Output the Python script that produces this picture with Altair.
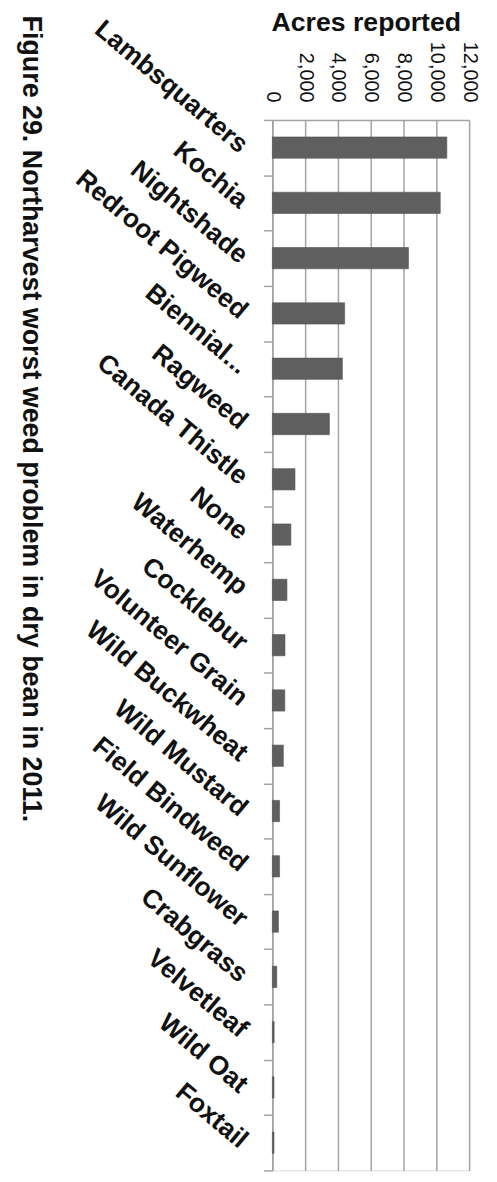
import altair as alt
import pandas as pd

FONT = "Liberation Sans"

weeds = ["Lambsquarters", "Kochia", "Nightshade", "Redroot Pigweed", "Biennial...",
         "Ragweed", "Canada Thistle", "None", "Waterhemp", "Cocklebur",
         "Volunteer Grain", "Wild Buckwheat", "Wild Mustard", "Field Bindweed",
         "Wild Sunflower", "Crabgrass", "Velvetleaf", "Wild Oat", "Foxtail"]
acres = [10640, 10240, 8300, 4410, 4270, 3480, 1380, 1130, 890, 770,
         760, 670, 440, 440, 370, 270, 110, 100, 100]
tick_values = [0, 2000, 4000, 6000, 8000, 10000, 12000]
axis_title = "Acres reported"
caption_text = "Figure 29. Northarvest worst weed problem in dry bean in 2011."

df = pd.DataFrame({"weed": weeds, "acres": acres})
cap_df = pd.DataFrame({"t": [caption_text]})

GRAY = "#a3a3a3"

bars = alt.Chart(df).mark_bar(
    color="#5f5f5f", stroke="#555555", strokeWidth=0.6,
    height=alt.RelativeBandSize(0.385)
).encode(
    x=alt.X(
        "acres:Q",
        scale=alt.Scale(domain=[0, 12000], nice=False, zero=True),
        axis=alt.Axis(
            orient="top", values=tick_values, format=",.0f", title=axis_title,
            labelAngle=90, labelAlign="right", labelBaseline="middle",
            labelFontSize=20, labelFont=FONT, labelColor="#111111", labelPadding=18,
            ticks=False, tickSize=0,
            domainColor=GRAY, domainWidth=1.5,
            grid=True, gridColor=GRAY, gridWidth=1.5,
            titleFont=FONT, titleFontSize=26.8, titleFontWeight="bold", titleColor="#111111",
            titleAngle=0, titleAlign="center", titleBaseline="alphabetic",
            titleX=94, titleY=-90,
            labelFlush=False, labelOverlap=False,
        ),
    ),
    y=alt.Y(
        "weed:N", sort=weeds,
        scale=alt.Scale(paddingInner=0, paddingOuter=0),
        axis=alt.Axis(
            title=None, labelAngle=40, labelAlign="right", labelBaseline="middle",
            labelFontSize=26.5, labelFontWeight="bold", labelFont=FONT, labelColor="#111111",
            labelPadding=20, labelLimit=400,
            tickBand="extent", tickSize=9, tickColor=GRAY, tickWidth=1.5,
            domainColor=GRAY, domainWidth=1.5, grid=False, labelOverlap=False,
        ),
    ),
)

caption = alt.Chart(cap_df).mark_text(
    angle=90, align="left", baseline="alphabetic", fontSize=27,
    fontWeight="bold", font=FONT, color="#111111"
).encode(text="t:N", x=alt.value(-251), y=alt.value(-105))

chart = alt.layer(bars, caption).properties(
    width=198, height=1057,
    padding={"left": 266, "top": 109, "right": 20, "bottom": 0},
    autosize=alt.AutoSizeParams(type="none"),
).configure_view(stroke=None).configure(background="white")

chart.save("out.html", embed_options={"renderer": "svg", "actions": False})
